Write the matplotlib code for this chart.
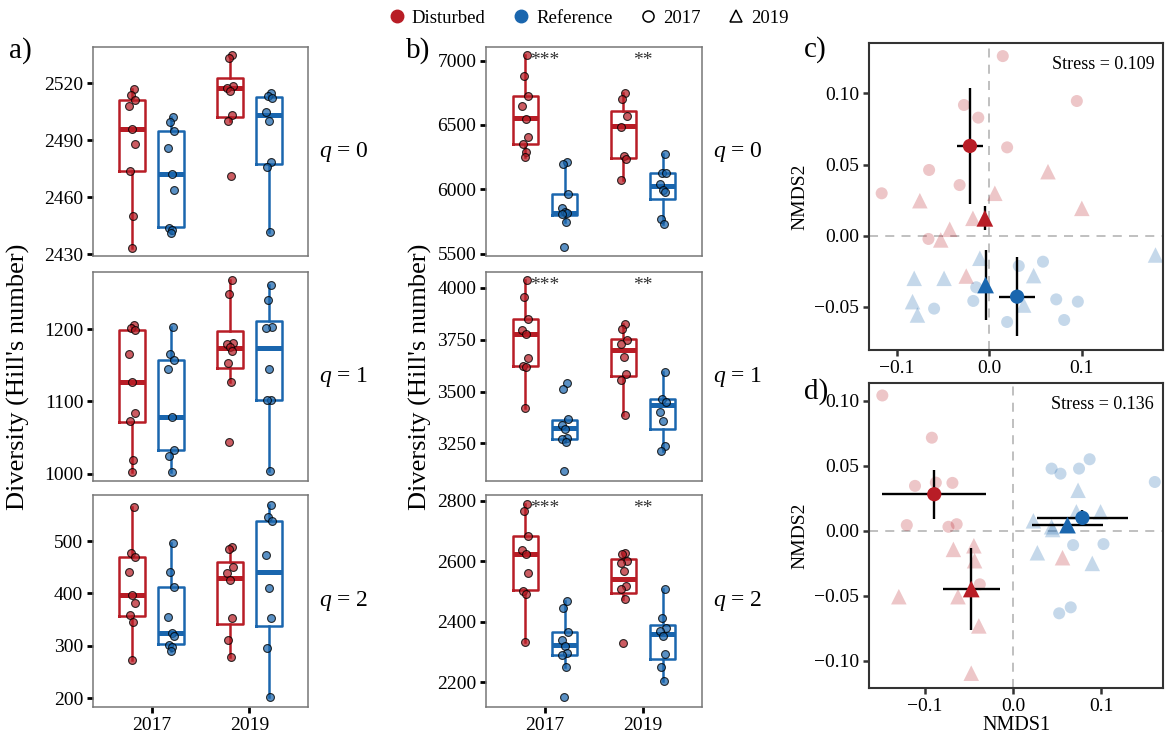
import numpy as np
import matplotlib
matplotlib.use('Agg')
import matplotlib.pyplot as plt
from matplotlib.lines import Line2D
from matplotlib.colors import to_rgba

plt.rcParams['font.family'] = ['Liberation Serif', 'DejaVu Serif']
plt.rcParams['mathtext.fontset'] = 'custom'
plt.rcParams['mathtext.it'] = 'Liberation Serif:italic'
plt.rcParams['mathtext.rm'] = 'Liberation Serif'

RED = '#B81D26'
BLUE = '#1A66AE'

years = ['2017', '2019']
groups = ['Disturbed', 'Reference']

# ---- panel a / b data ----
# group order in every row: Disturbed 2017, Reference 2017, Disturbed 2019, Reference 2019
# box stats: whisker low, Q1, median, Q3, whisker high
a_q0_points = [
    [2517, 2514, 2511, 2508, 2496, 2488, 2474, 2450, 2433],
    [2502, 2499.5, 2495, 2486, 2472, 2464, 2444, 2442.5, 2441],
    [2535, 2533, 2518.5, 2517.5, 2516, 2503, 2500, 2471],
    [2514.7, 2513, 2512, 2505, 2500.3, 2478.4, 2476, 2441.5],
]
a_q0_box = [
    [2433, 2474, 2496, 2511, 2517],
    [2441, 2444.5, 2472, 2495, 2502],
    [2500, 2502, 2517.5, 2522.5, 2535],
    [2441.5, 2477.5, 2503, 2512.5, 2514.7],
]
a_q1_points = [
    [1205.5, 1202, 1198.5, 1165, 1127.5, 1084.5, 1072.5, 1019, 1003],
    [1203, 1165, 1158, 1145, 1079, 1033, 1024, 1002],
    [1267.5, 1249, 1181, 1179, 1175, 1170, 1152.5, 1126.5, 1044.5],
    [1261.5, 1240, 1202.5, 1201.5, 1145, 1102.5, 1101.5, 1004],
]
a_q1_box = [
    [1003, 1072, 1127.5, 1198.5, 1205.5],
    [1002, 1033, 1079, 1158, 1203],
    [1126.5, 1145.7, 1174.5, 1197.7, 1267.5],
    [1004, 1102, 1173.3, 1211.5, 1261.5],
]
a_q2_points = [
    [565.5, 476.5, 470, 440, 396.4, 382.4, 358.9, 346, 273],
    [496.8, 440.2, 412.9, 355.7, 323.9, 318.8, 301.7, 298.5, 290.8],
    [489.2, 484.1, 449.8, 438.3, 425.6, 353.8, 311.2, 279.4],
    [568.7, 545.1, 538.8, 473.3, 409.7, 352.5, 296.6, 201.2],
]
a_q2_box = [
    [273, 357.6, 396.4, 470, 565.5],
    [290.8, 303, 324, 413, 496.8],
    [279.4, 341.7, 430, 459.3, 489.2],
    [201.2, 337.9, 440.9, 538.8, 568.7],
]

b_q0_points = [
    [7044, 6884, 6722, 6644, 6549, 6405, 6356, 6291, 6250],
    [6214, 6198, 5966, 5858, 5825, 5820, 5807, 5747, 5549],
    [6747, 6700, 6572, 6482, 6258, 6232, 6070],
    [6278, 6129, 6125, 6039, 5992, 5982, 5768, 5729],
]
b_q0_box = [
    [6250, 6356, 6554, 6722, 7044],
    [5747, 5802, 5820, 5966, 6214],
    [6070, 6245, 6490, 6611, 6747],
    [5729, 5923, 6026, 6129, 6278],
]
b_q1_points = [
    [4037, 3955, 3851, 3796, 3780, 3660, 3623, 3619, 3423],
    [3543, 3514, 3367, 3338, 3319, 3276, 3271, 3258, 3115],
    [3827, 3804, 3747, 3732, 3668, 3586, 3554, 3388],
    [3596, 3463, 3450, 3404, 3356, 3236, 3215],
]
b_q1_box = [
    [3423, 3623, 3780, 3851, 4037],
    [3258, 3271, 3327, 3364, 3367],
    [3388, 3575, 3703, 3756, 3827],
    [3215, 3319, 3436, 3463, 3596],
]
b_q2_points = [
    [2789, 2765, 2682, 2637, 2623, 2560, 2502, 2491, 2333],
    [2468, 2446, 2366, 2341, 2319, 2297, 2290, 2251, 2151],
    [2628, 2625, 2601, 2596, 2568, 2518, 2507, 2477, 2330],
    [2509, 2413, 2380, 2369, 2352, 2294, 2251, 2205],
]
b_q2_box = [
    [2333, 2504, 2623, 2682, 2789],
    [2251, 2290, 2323, 2367, 2468],
    [2477, 2496, 2542, 2607, 2628],
    [2205, 2277, 2361, 2389, 2509],
]
b_stars = ['***', '**']

# ---- panel c / d data (NMDS scores) ----
c_dist17_x = [0.0147, -0.0273, -0.0118, 0.0948, 0.0194, -0.0650, -0.0320, -0.1163, -0.0657]
c_dist17_y = [0.1263, 0.0919, 0.0830, 0.0947, 0.0621, 0.0462, 0.0356, 0.0298, -0.0023]
c_dist19_x = [-0.0750, -0.0427, -0.0524, -0.0176, 0.0061, 0.0636, 0.1002, -0.0248]
c_dist19_y = [0.0246, 0.0045, -0.0030, 0.0122, 0.0298, 0.0450, 0.0192, -0.0284]
c_ref17_x = [0.0320, 0.0582, -0.0140, -0.0172, -0.0596, 0.0194, 0.0725, 0.0811, 0.0959]
c_ref17_y = [-0.0213, -0.0183, -0.0363, -0.0459, -0.0513, -0.0607, -0.0448, -0.0593, -0.0464]
c_ref19_x = [0.1799, -0.0101, -0.0811, -0.0488, 0.0481, -0.0829, -0.0776, 0.0373]
c_ref19_y = [-0.0136, -0.0159, -0.0300, -0.0300, -0.0281, -0.0464, -0.0558, -0.0488]
# centroids: Disturbed 2017, Disturbed 2019, Reference 2017, Reference 2019
c_cent_x = [-0.0208, -0.0047, 0.0302, -0.0039]
c_cent_y = [0.0631, 0.0122, -0.0429, -0.0347]
c_xerr = [0.0142, 0.0, 0.0194, 0.0]
c_yerr = [0.0411, 0.0084, 0.0277, 0.0244]
c_stress = 0.109

d_dist17_x = [-0.1479, -0.0918, -0.1109, -0.0873, -0.0685, -0.1202, -0.0730, -0.0637, -0.0375]
d_dist17_y = [0.1042, 0.0717, 0.0346, 0.0371, 0.0369, 0.0044, 0.0031, 0.0051, -0.0412]
d_dist19_x = [-0.0674, -0.0442, -0.0434, -0.1292, -0.0622, -0.0386, -0.0472, 0.0562]
d_dist19_y = [-0.0143, -0.0115, -0.0230, -0.0507, -0.0507, -0.0732, -0.1096, -0.0207]
d_ref17_x = [0.0438, 0.0539, 0.0749, 0.0869, 0.1607, 0.0682, 0.1026, 0.0524, 0.0655]
d_ref17_y = [0.0479, 0.0440, 0.0479, 0.0551, 0.0376, -0.0110, -0.0102, -0.0635, -0.0589]
d_ref19_x = [0.0738, 0.0719, 0.0993, 0.0232, 0.0438, 0.0277, 0.0899, 0.0450]
d_ref19_y = [0.0312, 0.0146, 0.0146, 0.0077, 0.0031, -0.0169, -0.0251, 0.0010]
d_cent_x = [-0.0891, -0.0472, 0.0787, 0.0618]
d_cent_y = [0.0282, -0.0448, 0.0100, 0.0044]
d_xerr = [0.0588, 0.0324, 0.0511, 0.0406]
d_yerr = [0.0188, 0.0318, 0.0061, 0.0020]
d_stress = 0.136

# horizontal jitter pattern for the raw points
JITTER = [0.02, -0.012, 0.032, -0.03, 0.004, 0.026, -0.022, 0.012, -0.006]

W, H = 1165, 736
fig = plt.figure(figsize=(W / 100, H / 100), dpi=100)


def px_axes(x0, y0, x1, y1):
    return fig.add_axes([x0 / W, 1 - y1 / H, (x1 - x0) / W, (y1 - y0) / H])


def box_row(ax, points, box, ylim, yticks, bottom, stars=None, qlab=''):
    positions = [0.8, 1.2, 1.8, 2.2]
    colors = [RED, BLUE, RED, BLUE]
    for pos, col, pts, st in zip(positions, colors, points, box):
        stats = [dict(whislo=st[0], q1=st[1], med=st[2], q3=st[3], whishi=st[4], fliers=[])]
        ax.bxp(stats, positions=[pos], widths=0.26, showcaps=False, showfliers=False,
               boxprops=dict(color=col, lw=1.8),
               whiskerprops=dict(color=col, lw=1.8),
               medianprops=dict(color=col, lw=3.6, solid_capstyle='butt'),
               manage_ticks=False, zorder=2)
        xs = pos + np.array(JITTER[:len(pts)])
        ax.scatter(xs, pts, s=32, facecolor=to_rgba(col, 0.72),
                   edgecolor=(0, 0, 0, 0.8), linewidth=0.8, zorder=3)
    ax.set_xlim(0.4, 2.6)
    ax.set_ylim(*ylim)
    ax.set_yticks(yticks)
    for sp in ax.spines.values():
        sp.set_color('#777777')
        sp.set_linewidth(1.1)
    ax.tick_params(axis='y', length=4, width=2, color='black', labelsize=14, pad=3)
    if bottom:
        ax.set_xticks([1, 2])
        ax.set_xticklabels(years)
        ax.tick_params(axis='x', length=4, width=2, color='black', labelsize=14, pad=3)
    else:
        ax.set_xticks([])
    if stars:
        for xi, s in zip([1, 2], stars):
            ax.text(xi, 0.935, s, transform=ax.get_xaxis_transform(), ha='center',
                    va='center', fontsize=14, color='#333333')
    ax.text(1.165, 0.5, r'$q$ = ' + qlab, transform=ax.transAxes, ha='center',
            va='center', fontsize=17)


rows = [(47, 256), (272, 481), (495, 707)]

# panel a
a_data = [(a_q0_points, a_q0_box, (2429, 2539), [2430, 2460, 2490, 2520]),
          (a_q1_points, a_q1_box, (990, 1279), [1000, 1100, 1200]),
          (a_q2_points, a_q2_box, (183, 588), [200, 300, 400, 500])]
for i, ((y0, y1), (pts, bx, yl, yt)) in enumerate(zip(rows, a_data)):
    ax = px_axes(93, y0, 308, y1)
    box_row(ax, pts, bx, yl, yt, bottom=(i == 2), qlab=str(i))

# panel b
b_data = [(b_q0_points, b_q0_box, (5482, 7106), [5500, 6000, 6500, 7000]),
          (b_q1_points, b_q1_box, (3069, 4077), [3250, 3500, 3750, 4000]),
          (b_q2_points, b_q2_box, (2119, 2819), [2200, 2400, 2600, 2800])]
for i, ((y0, y1), (pts, bx, yl, yt)) in enumerate(zip(rows, b_data)):
    ax = px_axes(486, y0, 702, y1)
    box_row(ax, pts, bx, yl, yt, bottom=(i == 2), stars=b_stars, qlab=str(i))

fig.text(18 / W, 1 - 377 / H, "Diversity (Hill's number)", rotation=90,
         ha='center', va='center', fontsize=19)
fig.text(420 / W, 1 - 377 / H, "Diversity (Hill's number)", rotation=90,
         ha='center', va='center', fontsize=19)


def nmds_panel(ax, pts, cx, cy, xerr, yerr, stress, xlim, ylim, xticks, xlabs,
               yticks, ylabs, show_xlabel):
    ax.axhline(0, color='#BBBBBB', lw=1.3, ls=(0, (5, 4)), zorder=1)
    ax.axvline(0, color='#BBBBBB', lw=1.3, ls=(0, (5, 4)), zorder=1)
    styles = [(RED, 'o', 75), (RED, '^', 125), (BLUE, 'o', 75), (BLUE, '^', 125)]
    for (px, py), (col, mk, s) in zip(pts, styles):
        ax.scatter(px, py, s=s, marker=mk, facecolor=to_rgba(col, 0.25),
                   edgecolor='none', zorder=2)
    ax.errorbar(cx, cy, xerr=xerr, yerr=yerr, fmt='none', ecolor='black',
                elinewidth=1.7, capsize=0, zorder=3)
    big = [(RED, 'o', 105), (RED, '^', 145), (BLUE, 'o', 105), (BLUE, '^', 145)]
    for x, y, (col, mk, s) in zip(cx, cy, big):
        ax.scatter(x, y, s=s, marker=mk, color=col, edgecolor='none', zorder=4)
    ax.set_xlim(*xlim)
    ax.set_ylim(*ylim)
    ax.set_xticks(xticks)
    ax.set_xticklabels(xlabs)
    ax.set_yticks(yticks)
    ax.set_yticklabels(ylabs)
    for sp in ax.spines.values():
        sp.set_color('#333333')
        sp.set_linewidth(1.5)
    ax.tick_params(length=4, width=1.8, color='#333333', labelsize=14, pad=3)
    ax.text(0.97, 0.93, f'Stress = {stress:.3f}', transform=ax.transAxes,
            ha='right', va='center', fontsize=13)
    ax.set_ylabel('NMDS2', fontsize=14, labelpad=4)
    if show_xlabel:
        ax.set_xlabel('NMDS1', fontsize=14.5, labelpad=1)


axc = px_axes(869, 43, 1163, 350)
nmds_panel(axc, [(c_dist17_x, c_dist17_y), (c_dist19_x, c_dist19_y),
                 (c_ref17_x, c_ref17_y), (c_ref19_x, c_ref19_y)],
           c_cent_x, c_cent_y, c_xerr, c_yerr, c_stress,
           (-0.130, 0.188), (-0.0804, 0.1355),
           [-0.1, 0.0, 0.1], ['\u22120.1', '0.0', '0.1'],
           [-0.05, 0.0, 0.05, 0.10], ['\u22120.05', '0.00', '0.05', '0.10'], False)

axd = px_axes(869, 383, 1163, 688)
nmds_panel(axd, [(d_dist17_x, d_dist17_y), (d_dist19_x, d_dist19_y),
                 (d_ref17_x, d_ref17_y), (d_ref19_x, d_ref19_y)],
           d_cent_x, d_cent_y, d_xerr, d_yerr, d_stress,
           (-0.163, 0.170), (-0.121, 0.1138),
           [-0.1, 0.0, 0.1], ['\u22120.1', '0.0', '0.1'],
           [-0.10, -0.05, 0.0, 0.05, 0.10],
           ['\u22120.10', '\u22120.05', '0.00', '0.05', '0.10'], True)

# panel letters
for lab, x, y in [('a)', 9, 51), ('b)', 406, 51), ('c)', 804, 50), ('d)', 804, 392)]:
    fig.text(x / W, 1 - y / H, lab, ha='left', va='center', fontsize=21)

# legend
handles = [
    Line2D([], [], ls='', marker='o', color=RED, ms=9),
    Line2D([], [], ls='', marker='o', color=BLUE, ms=9),
    Line2D([], [], ls='', marker='o', mfc='white', mec='black', mew=1.1, ms=8),
    Line2D([], [], ls='', marker='^', mfc='white', mec='black', mew=1.1, ms=9),
]
fig.legend(handles, groups + years, loc='center', bbox_to_anchor=(588 / W, 1 - 18 / H),
           ncol=4, frameon=False, fontsize=13.5, handletextpad=0.3,
           columnspacing=1.4, handlelength=1.0)

fig.savefig('out.png', dpi=100)
